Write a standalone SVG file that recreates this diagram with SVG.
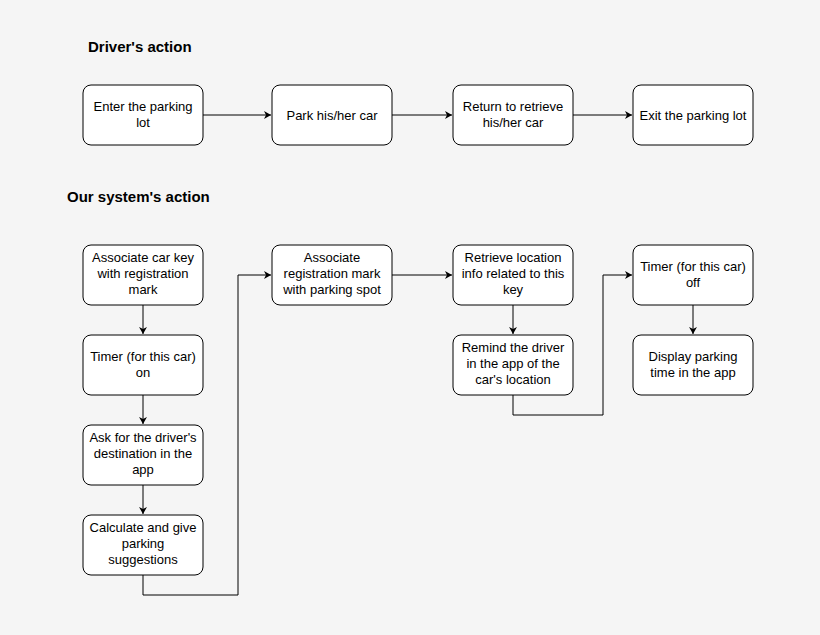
<svg xmlns="http://www.w3.org/2000/svg" width="820" height="635" viewBox="0 0 820 635">
<defs>
<marker id="a" markerWidth="10" markerHeight="10" refX="8" refY="5" orient="auto" markerUnits="userSpaceOnUse"><path d="M1,1 L8,5 L1,9 L3,5 Z" fill="#000"/></marker>
<style>
.n rect{fill:#fff;stroke:#000;stroke-width:1}
.n text,.t{font-family:"Liberation Sans",Arial,sans-serif;font-size:13px;fill:#000;text-anchor:middle}
.t{font-weight:bold;font-size:15px;text-anchor:start}
.c path{fill:none;stroke:#000;stroke-width:1;marker-end:url(#a)}
</style>
</defs>
<rect width="820" height="635" fill="#f5f5f5"/>
<text class="t" x="88" y="52">Driver's action</text>
<text class="t" x="67" y="202">Our system's action</text>
<g class="c">
<path d="M203,115H271"/><path d="M392,115H452"/><path d="M573,115H632"/>
<path d="M143,305V334"/><path d="M143,395V424"/><path d="M143,485V514"/>
<path d="M143,575V595H238V275H271"/>
<path d="M392,275H452"/>
<path d="M513,305V334"/>
<path d="M513,395V415H603V275H632"/>
<path d="M693,305V334"/>
</g>
<g id="n1" class="n"><rect x="83" y="85" width="120" height="60" rx="8"/><text x="143" y="111">Enter the parking</text><text x="143" y="127">lot</text></g>
<g id="n2" class="n"><rect x="272" y="85" width="120" height="60" rx="8"/><text x="332" y="120">Park his/her car</text></g>
<g id="n3" class="n"><rect x="453" y="85" width="120" height="60" rx="8"/><text x="513" y="111">Return to retrieve</text><text x="513" y="127">his/her car</text></g>
<g id="n4" class="n"><rect x="633" y="85" width="120" height="60" rx="8"/><text x="693" y="120">Exit the parking lot</text></g>
<g id="s1" class="n"><rect x="83" y="245" width="120" height="60" rx="8"/><text x="143" y="262">Associate car key</text><text x="143" y="278">with registration</text><text x="143" y="294">mark</text></g>
<g id="s2" class="n"><rect x="83" y="335" width="120" height="60" rx="8"/><text x="143" y="361">Timer (for this car)</text><text x="143" y="377">on</text></g>
<g id="s3" class="n"><rect x="83" y="425" width="120" height="60" rx="8"/><text x="143" y="442">Ask for the driver's</text><text x="143" y="458">destination in the</text><text x="143" y="474">app</text></g>
<g id="s4" class="n"><rect x="83" y="515" width="120" height="60" rx="8"/><text x="143" y="532">Calculate and give</text><text x="143" y="548">parking</text><text x="143" y="564">suggestions</text></g>
<g id="s5" class="n"><rect x="272" y="245" width="120" height="60" rx="8"/><text x="332" y="262">Associate</text><text x="332" y="278">registration mark</text><text x="332" y="294">with parking spot</text></g>
<g id="s6" class="n"><rect x="453" y="245" width="120" height="60" rx="8"/><text x="513" y="262">Retrieve location</text><text x="513" y="278">info related to this</text><text x="513" y="294">key</text></g>
<g id="s7" class="n"><rect x="453" y="335" width="120" height="60" rx="8"/><text x="513" y="352">Remind the driver</text><text x="513" y="368">in the app of the</text><text x="513" y="384">car's location</text></g>
<g id="s8" class="n"><rect x="633" y="245" width="120" height="60" rx="8"/><text x="693" y="271">Timer (for this car)</text><text x="693" y="287">off</text></g>
<g id="s9" class="n"><rect x="633" y="335" width="120" height="60" rx="8"/><text x="693" y="361">Display parking</text><text x="693" y="377">time in the app</text></g>
</svg>
